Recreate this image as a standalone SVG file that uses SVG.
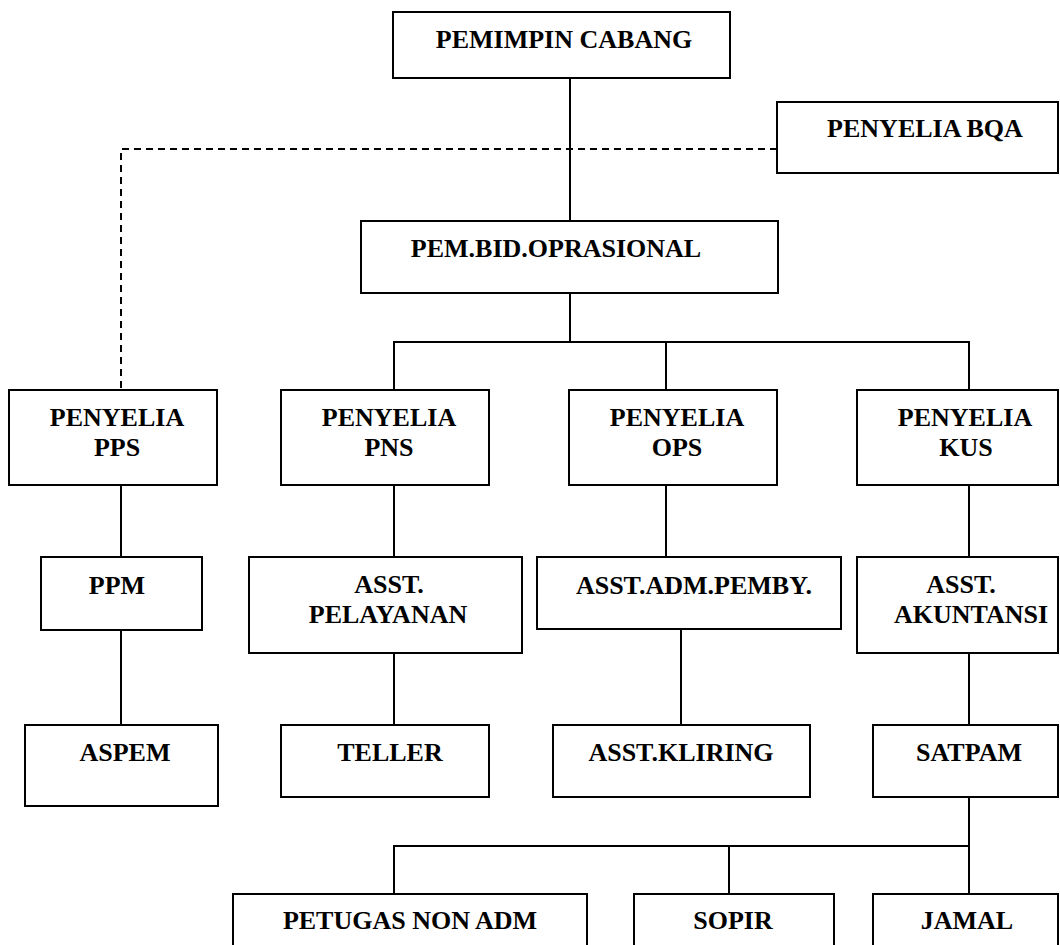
<svg xmlns="http://www.w3.org/2000/svg" width="1060" height="945" viewBox="0 0 1060 945">
<style>
rect{fill:#fff;stroke:#000;stroke-width:2}
.c line,.c path{stroke:#000;stroke-width:2;fill:none}
.c .d{stroke-dasharray:7 5}
text{font-weight:bold;font-size:26px;text-anchor:middle;fill:#000}
</style>
<rect x="0" y="0" width="1060" height="945" style="stroke:none"/>
<g class="c" id="connectors">
<line x1="570" y1="78" x2="570" y2="221"/>
<path class="d" d="M777 149 H121 V390"/>
<line x1="570" y1="293" x2="570" y2="342"/>
<path d="M394 390 V342 H969 V390"/>
<line x1="666" y1="342" x2="666" y2="390"/>
<line x1="121" y1="485" x2="121" y2="557"/>
<line x1="121" y1="630" x2="121" y2="725"/>
<line x1="394" y1="485" x2="394" y2="557"/>
<line x1="394" y1="653" x2="394" y2="725"/>
<line x1="666" y1="485" x2="666" y2="557"/>
<line x1="681" y1="629" x2="681" y2="725"/>
<line x1="969" y1="485" x2="969" y2="557"/>
<line x1="969" y1="653" x2="969" y2="725"/>
<path d="M394 894 V846 H969 V894"/>
<line x1="969" y1="797" x2="969" y2="846"/>
<line x1="729" y1="846" x2="729" y2="894"/>
</g>
<g font-family="Liberation Serif, Times New Roman, DejaVu Serif, serif">
<g id="pemimpin"><rect x="393" y="12" width="337" height="66"/><text x="564" y="48">PEMIMPIN CABANG</text></g>
<g id="bqa"><rect x="777" y="102" width="281" height="71"/><text x="925" y="137">PENYELIA BQA</text></g>
<g id="pembid"><rect x="361" y="221" width="417" height="72"/><text x="556" y="257">PEM.BID.OPRASIONAL</text></g>
<g id="pps"><rect x="9" y="390" width="208" height="95"/><text x="117" y="426">PENYELIA</text><text x="117" y="456">PPS</text></g>
<g id="pns"><rect x="281" y="390" width="208" height="95"/><text x="389" y="426">PENYELIA</text><text x="389" y="456">PNS</text></g>
<g id="ops"><rect x="569" y="390" width="208" height="95"/><text x="677" y="426">PENYELIA</text><text x="677" y="456">OPS</text></g>
<g id="kus"><rect x="857" y="390" width="201" height="95"/><text x="965" y="426">PENYELIA</text><text x="966" y="456">KUS</text></g>
<g id="ppm"><rect x="41" y="557" width="161" height="73"/><text x="117" y="594">PPM</text></g>
<g id="pelayanan"><rect x="249" y="557" width="273" height="96"/><text x="389" y="593">ASST.</text><text x="388" y="623">PELAYANAN</text></g>
<g id="admpemby"><rect x="537" y="557" width="304" height="72"/><text x="694" y="594">ASST.ADM.PEMBY.</text></g>
<g id="akuntansi"><rect x="857" y="557" width="201" height="96"/><text x="961" y="593">ASST.</text><text x="971" y="623">AKUNTANSI</text></g>
<g id="aspem"><rect x="25" y="725" width="193" height="81"/><text x="125" y="761">ASPEM</text></g>
<g id="teller"><rect x="281" y="725" width="208" height="72"/><text x="390" y="761">TELLER</text></g>
<g id="kliring"><rect x="553" y="725" width="257" height="72"/><text x="681" y="761">ASST.KLIRING</text></g>
<g id="satpam"><rect x="873" y="725" width="185" height="72"/><text x="969" y="761">SATPAM</text></g>
<g id="petugas"><rect x="233" y="894" width="354" height="70"/><text x="410" y="929">PETUGAS NON ADM</text></g>
<g id="sopir"><rect x="634" y="894" width="200" height="70"/><text x="733" y="929">SOPIR</text></g>
<g id="jamal"><rect x="873" y="894" width="185" height="70"/><text x="967" y="929">JAMAL</text></g>
</g>
</svg>
